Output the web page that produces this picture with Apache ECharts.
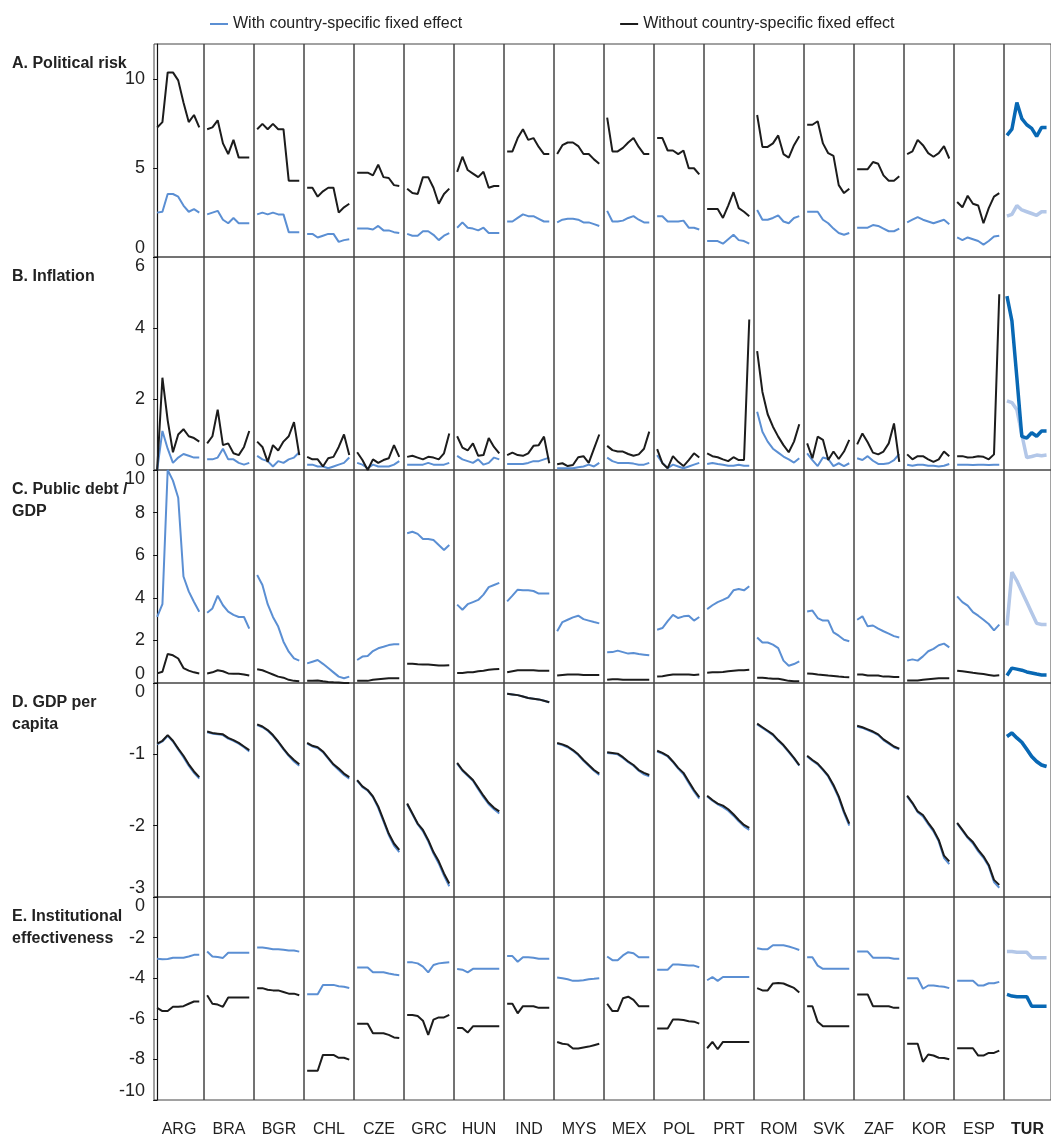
<!DOCTYPE html>
<html>
<head>
<meta charset="utf-8">
<script src="https://cdn.jsdelivr.net/npm/echarts@6/dist/echarts.min.js"></script>
<style>
  html, body { margin: 0; padding: 0; background: #fff; }
  #chart { width: 1051px; height: 1139px; }
</style>
</head>
<body>
<div id="chart"></div>
<script>
const COUNTRIES = ["ARG", "BRA", "BGR", "CHL", "CZE", "GRC", "HUN", "IND", "MYS", "MEX", "POL", "PRT", "ROM", "SVK", "ZAF", "KOR", "ESP", "TUR"];

// A. Political risk
const riskWith = [
  [2.5, 2.55, 3.55, 3.55, 3.4, 2.9, 2.55, 2.7, 2.5],
  [2.4, 2.5, 2.6, 2.1, 1.9, 2.2, 1.9, 1.9, 1.9],
  [2.4, 2.5, 2.4, 2.5, 2.4, 2.4, 1.4, 1.4, 1.4],
  [1.3, 1.3, 1.1, 1.2, 1.3, 1.3, 0.85, 0.95, 1.0],
  [1.6, 1.6, 1.6, 1.55, 1.75, 1.5, 1.5, 1.4, 1.35],
  [1.3, 1.2, 1.2, 1.45, 1.45, 1.25, 0.95, 1.2, 1.35],
  [1.65, 1.95, 1.65, 1.6, 1.5, 1.65, 1.35, 1.35, 1.35],
  [2.0, 2.0, 2.2, 2.4, 2.3, 2.3, 2.15, 2.0, 2.0],
  [1.95, 2.1, 2.15, 2.15, 2.1, 1.95, 1.95, 1.85, 1.75],
  [2.6, 2.0, 2.0, 2.05, 2.2, 2.3, 2.1, 1.95, 1.95],
  [2.3, 2.3, 2.0, 2.0, 2.0, 2.05, 1.65, 1.65, 1.55],
  [0.9, 0.9, 0.9, 0.75, 1.0, 1.25, 0.95, 0.9, 0.75],
  [2.65, 2.1, 2.1, 2.2, 2.35, 2.0, 1.9, 2.2, 2.3],
  [2.55, 2.55, 2.55, 2.1, 1.9, 1.6, 1.35, 1.25, 1.35],
  [1.65, 1.65, 1.65, 1.8, 1.75, 1.6, 1.45, 1.45, 1.6],
  [1.95, 2.1, 2.25, 2.1, 2.0, 1.9, 2.0, 2.1, 1.85],
  [1.1, 0.95, 1.1, 1.0, 0.9, 0.7, 0.9, 1.15, 1.2],
  [2.3, 2.4, 2.9, 2.65, 2.55, 2.45, 2.35, 2.55, 2.55]
];
const riskWithout = [
  [7.3, 7.6, 10.4, 10.4, 9.95, 8.7, 7.6, 8.0, 7.3],
  [7.2, 7.3, 7.7, 6.4, 5.8, 6.6, 5.6, 5.6, 5.6],
  [7.2, 7.5, 7.2, 7.5, 7.2, 7.2, 4.3, 4.3, 4.3],
  [3.9, 3.9, 3.4, 3.7, 3.9, 3.9, 2.5, 2.8, 3.0],
  [4.75, 4.75, 4.75, 4.6, 5.2, 4.5, 4.45, 4.05, 4.0],
  [3.85, 3.6, 3.55, 4.5, 4.5, 3.9, 3.0, 3.55, 3.85],
  [4.8, 5.65, 4.9, 4.7, 4.5, 4.8, 3.9, 4.0, 4.0],
  [5.95, 5.95, 6.7, 7.2, 6.6, 6.7, 6.2, 5.8, 5.8],
  [5.8, 6.3, 6.45, 6.45, 6.25, 5.8, 5.8, 5.5, 5.25],
  [7.85, 5.95, 5.95, 6.15, 6.45, 6.7, 6.2, 5.8, 5.8],
  [6.7, 6.7, 6.0, 6.0, 5.8, 6.0, 5.0, 5.0, 4.65],
  [2.7, 2.7, 2.7, 2.2, 2.9, 3.65, 2.75, 2.55, 2.3],
  [8.0, 6.2, 6.2, 6.4, 6.85, 5.8, 5.6, 6.3, 6.8],
  [7.45, 7.45, 7.65, 6.4, 5.85, 5.7, 4.05, 3.6, 3.85],
  [4.95, 4.95, 4.95, 5.35, 5.25, 4.6, 4.3, 4.3, 4.55],
  [5.8, 5.95, 6.6, 6.3, 5.85, 5.65, 5.85, 6.25, 5.55],
  [3.1, 2.8, 3.45, 3.0, 2.9, 1.9, 2.75, 3.4, 3.6],
  [6.85, 7.2, 8.7, 7.8, 7.45, 7.25, 6.8, 7.3, 7.3]
];

// B. Inflation
const inflWith = [
  [0, 1.1, 0.6, 0.2, 0.35, 0.45, 0.4, 0.35, 0.35],
  [0.3, 0.3, 0.35, 0.6, 0.3, 0.3, 0.2, 0.15, 0.2],
  [0.4, 0.3, 0.25, 0.1, 0.25, 0.2, 0.3, 0.35, 0.5],
  [0.15, 0.15, 0.1, 0.1, 0.05, 0.1, 0.15, 0.2, 0.35],
  [0.2, 0.15, 0.05, 0.15, 0.1, 0.1, 0.1, 0.15, 0.25],
  [0.15, 0.15, 0.15, 0.15, 0.2, 0.15, 0.15, 0.15, 0.2],
  [0.4, 0.3, 0.25, 0.2, 0.3, 0.15, 0.2, 0.35, 0.3],
  [0.17, 0.17, 0.17, 0.17, 0.2, 0.25, 0.25, 0.3, 0.35],
  [0.05, 0.05, 0.05, 0.05, 0.08, 0.1, 0.15, 0.1, 0.2],
  [0.35, 0.25, 0.2, 0.2, 0.2, 0.18, 0.15, 0.15, 0.2],
  [0.42, 0.2, 0.05, 0.15, 0.1, 0.05, 0.1, 0.15, 0.2],
  [0.17, 0.2, 0.17, 0.15, 0.12, 0.12, 0.15, 0.12, 0.12],
  [1.64, 1.08, 0.8, 0.6, 0.49, 0.38, 0.3, 0.21, 0.33],
  [0.47, 0.28, 0.11, 0.35, 0.31, 0.11, 0.19, 0.11, 0.19],
  [0.33, 0.28, 0.39, 0.26, 0.17, 0.17, 0.19, 0.28, 0.45],
  [0.15, 0.12, 0.15, 0.15, 0.12, 0.12, 0.1, 0.12, 0.17],
  [0.15, 0.15, 0.15, 0.14, 0.15, 0.15, 0.14, 0.15, 0.15],
  [1.95, 1.9, 1.7, 1.0, 0.35, 0.38, 0.42, 0.4, 0.42]
];
const inflWithout = [
  [0, 2.6, 1.4, 0.5, 1.0, 1.15, 0.95, 0.9, 0.8],
  [0.75, 0.95, 1.7, 0.7, 0.75, 0.47, 0.42, 0.65, 1.1],
  [0.8, 0.65, 0.23, 0.7, 0.55, 0.8, 0.95, 1.35, 0.42],
  [0.37, 0.3, 0.3, 0.1, 0.33, 0.37, 0.65, 1.0, 0.42],
  [0.5, 0.28, 0.0, 0.3, 0.2, 0.28, 0.33, 0.7, 0.37],
  [0.37, 0.4, 0.35, 0.3, 0.37, 0.35, 0.3, 0.47, 1.03],
  [0.95, 0.63, 0.55, 0.75, 0.4, 0.42, 0.9, 0.65, 0.47],
  [0.42, 0.49, 0.42, 0.4, 0.47, 0.68, 0.7, 0.94, 0.19],
  [0.16, 0.19, 0.11, 0.14, 0.36, 0.39, 0.2, 0.6, 1.0],
  [0.68, 0.56, 0.52, 0.52, 0.45, 0.4, 0.44, 0.6, 1.08],
  [0.59, 0.19, 0.05, 0.39, 0.23, 0.11, 0.28, 0.47, 0.35],
  [0.47, 0.39, 0.36, 0.3, 0.25, 0.36, 0.28, 0.28, 4.24],
  [3.35, 2.2, 1.57, 1.22, 0.94, 0.7, 0.5, 0.8, 1.29],
  [0.75, 0.33, 0.94, 0.85, 0.28, 0.52, 0.31, 0.52, 0.85],
  [0.72, 1.03, 0.78, 0.49, 0.44, 0.52, 0.75, 1.31, 0.23],
  [0.44, 0.3, 0.39, 0.39, 0.3, 0.23, 0.3, 0.52, 0.39],
  [0.39, 0.39, 0.35, 0.36, 0.39, 0.37, 0.3, 0.44, 4.95],
  [4.9, 4.2, 2.6, 0.95, 0.9, 1.05, 0.95, 1.1, 1.1]
];

// C. Public debt / GDP
const debtWith = [
  [3.1, 3.7, 10, 9.5, 8.7, 5.0, 4.3, 3.8, 3.35],
  [3.3, 3.5, 4.1, 3.65, 3.35, 3.2, 3.1, 3.1, 2.55],
  [5.07, 4.6, 3.7, 3.1, 2.65, 1.94, 1.47, 1.16, 1.05],
  [0.92, 1.0, 1.08, 0.9, 0.7, 0.5, 0.3, 0.22, 0.3],
  [1.08, 1.24, 1.27, 1.5, 1.63, 1.7, 1.78, 1.82, 1.82],
  [7.03, 7.1, 7.0, 6.76, 6.76, 6.71, 6.48, 6.24, 6.48],
  [3.68, 3.44, 3.7, 3.8, 3.9, 4.15, 4.5, 4.6, 4.7],
  [3.83, 4.1, 4.38, 4.35, 4.35, 4.32, 4.2, 4.2, 4.2],
  [2.43, 2.86, 2.97, 3.08, 3.16, 3.0, 2.93, 2.86, 2.8],
  [1.44, 1.45, 1.52, 1.45, 1.38, 1.41, 1.36, 1.33, 1.3],
  [2.5, 2.58, 2.9, 3.2, 3.05, 3.13, 3.16, 2.93, 3.1],
  [3.47, 3.65, 3.8, 3.9, 4.02, 4.35, 4.41, 4.35, 4.54],
  [2.14, 1.9, 1.9, 1.8, 1.64, 1.05, 0.81, 0.89, 1.02],
  [3.36, 3.4, 3.05, 2.93, 2.93, 2.38, 2.22, 2.03, 1.96],
  [2.97, 3.13, 2.66, 2.7, 2.55, 2.43, 2.32, 2.2, 2.14],
  [1.05, 1.11, 1.05, 1.25, 1.49, 1.6, 1.77, 1.85, 1.67],
  [4.07, 3.8, 3.63, 3.33, 3.16, 2.97, 2.77, 2.47, 2.74],
  [2.7, 5.2, 4.8, 4.3, 3.8, 3.3, 2.8, 2.75, 2.75]
];
const debtWithout = [
  [0.45, 0.53, 1.36, 1.3, 1.15, 0.7, 0.58, 0.5, 0.45],
  [0.45, 0.5, 0.6, 0.55, 0.45, 0.43, 0.43, 0.4, 0.35],
  [0.65, 0.6, 0.5, 0.4, 0.3, 0.25, 0.15, 0.1, 0.08],
  [0.1, 0.1, 0.12, 0.08, 0.05, 0.03, 0.02, 0.0, 0.0],
  [0.1, 0.1, 0.1, 0.15, 0.18, 0.2, 0.22, 0.22, 0.22],
  [0.9, 0.9, 0.88, 0.87, 0.87, 0.85, 0.82, 0.82, 0.83],
  [0.47, 0.47, 0.5, 0.5, 0.55, 0.58, 0.62, 0.64, 0.66],
  [0.5, 0.55, 0.6, 0.6, 0.6, 0.6, 0.58, 0.58, 0.58],
  [0.35, 0.38, 0.4, 0.4, 0.4, 0.38, 0.38, 0.37, 0.37],
  [0.15, 0.18, 0.18, 0.15, 0.15, 0.15, 0.15, 0.15, 0.15],
  [0.3, 0.32, 0.36, 0.4, 0.4, 0.4, 0.4, 0.38, 0.4],
  [0.48, 0.5, 0.5, 0.52, 0.55, 0.58, 0.6, 0.6, 0.62],
  [0.25, 0.25, 0.22, 0.2, 0.2, 0.15, 0.1, 0.08, 0.08],
  [0.45, 0.43, 0.4, 0.38, 0.35, 0.33, 0.3, 0.28, 0.27],
  [0.4, 0.4, 0.35, 0.35, 0.35, 0.3, 0.3, 0.28, 0.28],
  [0.12, 0.12, 0.12, 0.15, 0.18, 0.2, 0.22, 0.22, 0.22],
  [0.58, 0.55, 0.52, 0.48, 0.45, 0.42, 0.38, 0.34, 0.36],
  [0.35, 0.7, 0.65, 0.6, 0.52, 0.47, 0.42, 0.38, 0.38]
];

// D. GDP per capita
const gdpWithout = [
  [-0.85, -0.81, -0.73, -0.81, -0.92, -1.02, -1.14, -1.24, -1.32],
  [-0.68, -0.7, -0.71, -0.72, -0.77, -0.8, -0.84, -0.89, -0.94],
  [-0.58, -0.61, -0.66, -0.73, -0.82, -0.92, -1.01, -1.08, -1.14],
  [-0.84, -0.88, -0.9, -0.96, -1.05, -1.14, -1.2, -1.27, -1.32],
  [-1.36, -1.45, -1.5, -1.59, -1.73, -1.92, -2.11, -2.25, -2.34],
  [-1.69, -1.83, -1.97, -2.06, -2.2, -2.37, -2.5, -2.67, -2.81],
  [-1.12, -1.22, -1.29, -1.36, -1.47, -1.58, -1.68, -1.75, -1.8],
  [-0.15, -0.16, -0.17, -0.19, -0.21, -0.22, -0.23, -0.25, -0.27],
  [-0.84, -0.86, -0.89, -0.94, -1.0, -1.08, -1.15, -1.22, -1.27],
  [-0.97, -0.98, -0.99, -1.04, -1.1, -1.15, -1.22, -1.26, -1.29],
  [-0.95, -0.98, -1.02, -1.1, -1.19, -1.26, -1.38, -1.5, -1.6],
  [-1.58, -1.64, -1.69, -1.72, -1.77, -1.84, -1.92, -1.99, -2.03],
  [-0.57, -0.62, -0.67, -0.72, -0.8, -0.87, -0.96, -1.05, -1.15],
  [-1.02, -1.08, -1.13, -1.21, -1.3, -1.43, -1.59, -1.8, -1.97],
  [-0.6, -0.62, -0.65, -0.68, -0.72, -0.79, -0.84, -0.89, -0.92],
  [-1.58, -1.68, -1.8, -1.85, -1.96, -2.06, -2.2, -2.42, -2.5],
  [-1.96, -2.06, -2.16, -2.23, -2.34, -2.43, -2.55, -2.76, -2.83],
  [-0.75, -0.7, -0.77, -0.83, -0.93, -1.03, -1.1, -1.15, -1.17]
];
const gdpWith = [
  [-0.86, -0.82, -0.74, -0.82, -0.93, -1.04, -1.16, -1.26, -1.34],
  [-0.69, -0.71, -0.72, -0.73, -0.78, -0.81, -0.85, -0.9, -0.96],
  [-0.59, -0.62, -0.67, -0.74, -0.83, -0.93, -1.02, -1.1, -1.16],
  [-0.85, -0.89, -0.91, -0.97, -1.06, -1.15, -1.22, -1.29, -1.34],
  [-1.37, -1.46, -1.51, -1.6, -1.75, -1.94, -2.13, -2.28, -2.37],
  [-1.7, -1.84, -1.98, -2.08, -2.22, -2.39, -2.53, -2.7, -2.85],
  [-1.13, -1.23, -1.3, -1.37, -1.49, -1.6, -1.7, -1.77, -1.83],
  [-0.15, -0.16, -0.17, -0.19, -0.21, -0.22, -0.23, -0.25, -0.27],
  [-0.85, -0.87, -0.9, -0.95, -1.01, -1.09, -1.16, -1.23, -1.29],
  [-0.98, -0.99, -1.0, -1.05, -1.11, -1.16, -1.23, -1.28, -1.31],
  [-0.96, -0.99, -1.03, -1.11, -1.2, -1.28, -1.4, -1.52, -1.62],
  [-1.59, -1.65, -1.7, -1.74, -1.79, -1.86, -1.94, -2.01, -2.06],
  [-0.58, -0.63, -0.68, -0.73, -0.81, -0.88, -0.97, -1.06, -1.16],
  [-1.03, -1.09, -1.14, -1.22, -1.31, -1.45, -1.61, -1.82, -2.0],
  [-0.61, -0.63, -0.66, -0.69, -0.73, -0.8, -0.85, -0.9, -0.93],
  [-1.59, -1.69, -1.81, -1.87, -1.98, -2.08, -2.22, -2.45, -2.54],
  [-1.97, -2.07, -2.17, -2.25, -2.36, -2.45, -2.57, -2.79, -2.87],
  [-0.75, -0.7, -0.77, -0.83, -0.93, -1.03, -1.1, -1.15, -1.17]
];

// E. Institutional effectiveness
const instWith = [
  [-3.04, -3.07, -3.05, -2.99, -2.99, -2.99, -2.93, -2.85, -2.85],
  [-2.69, -2.93, -2.96, -3.0, -2.75, -2.75, -2.75, -2.75, -2.75],
  [-2.49, -2.49, -2.52, -2.57, -2.57, -2.6, -2.64, -2.64, -2.69],
  [-4.79, -4.79, -4.79, -4.33, -4.33, -4.33, -4.4, -4.42, -4.48],
  [-3.47, -3.47, -3.47, -3.71, -3.71, -3.71, -3.77, -3.82, -3.85],
  [-3.22, -3.22, -3.27, -3.43, -3.71, -3.35, -3.27, -3.24, -3.22],
  [-3.55, -3.58, -3.71, -3.54, -3.54, -3.54, -3.54, -3.54, -3.54],
  [-2.91, -2.91, -3.19, -2.97, -2.97, -2.99, -3.04, -3.04, -3.04],
  [-3.97, -4.0, -4.05, -4.13, -4.13, -4.1, -4.05, -4.03, -4.0],
  [-2.93, -3.11, -3.11, -2.88, -2.72, -2.77, -2.97, -2.97, -2.97],
  [-3.58, -3.58, -3.58, -3.32, -3.32, -3.35, -3.38, -3.38, -3.46],
  [-4.1, -3.94, -4.13, -3.94, -3.94, -3.94, -3.94, -3.94, -3.94],
  [-2.52, -2.57, -2.57, -2.38, -2.38, -2.38, -2.44, -2.52, -2.61],
  [-2.97, -2.97, -3.38, -3.54, -3.54, -3.54, -3.54, -3.54, -3.54],
  [-2.69, -2.69, -2.69, -2.99, -2.99, -2.99, -2.99, -3.04, -3.04],
  [-4.0, -4.0, -4.0, -4.52, -4.36, -4.36, -4.4, -4.42, -4.49],
  [-4.13, -4.13, -4.13, -4.13, -4.36, -4.36, -4.25, -4.25, -4.18],
  [-2.69, -2.69, -2.72, -2.72, -2.72, -2.99, -2.99, -2.99, -2.99]
];
const instWithout = [
  [-5.46, -5.62, -5.62, -5.41, -5.41, -5.38, -5.26, -5.15, -5.15],
  [-4.84, -5.26, -5.3, -5.41, -4.95, -4.95, -4.95, -4.95, -4.95],
  [-4.49, -4.49, -4.57, -4.6, -4.6, -4.68, -4.76, -4.76, -4.84],
  [-8.56, -8.56, -8.56, -7.78, -7.78, -7.78, -7.92, -7.92, -8.01],
  [-6.24, -6.24, -6.24, -6.71, -6.71, -6.71, -6.79, -6.92, -6.95],
  [-5.81, -5.81, -5.86, -6.09, -6.79, -6.04, -5.93, -5.93, -5.81],
  [-6.45, -6.45, -6.68, -6.37, -6.37, -6.37, -6.37, -6.37, -6.37],
  [-5.26, -5.26, -5.73, -5.38, -5.38, -5.38, -5.46, -5.46, -5.46],
  [-7.14, -7.23, -7.26, -7.46, -7.46, -7.41, -7.37, -7.3, -7.23],
  [-5.26, -5.62, -5.62, -4.99, -4.91, -5.07, -5.38, -5.38, -5.38],
  [-6.48, -6.48, -6.48, -6.04, -6.04, -6.06, -6.12, -6.14, -6.24],
  [-7.45, -7.14, -7.5, -7.14, -7.14, -7.14, -7.14, -7.14, -7.14],
  [-4.49, -4.6, -4.6, -4.26, -4.24, -4.26, -4.37, -4.48, -4.71],
  [-5.38, -5.38, -6.15, -6.37, -6.37, -6.37, -6.37, -6.37, -6.37],
  [-4.8, -4.8, -4.8, -5.38, -5.38, -5.38, -5.38, -5.46, -5.46],
  [-7.23, -7.23, -7.23, -8.12, -7.76, -7.81, -7.92, -7.93, -7.99],
  [-7.45, -7.45, -7.45, -7.45, -7.81, -7.81, -7.68, -7.68, -7.57],
  [-4.8, -4.88, -4.91, -4.91, -4.91, -5.38, -5.38, -5.38, -5.38]
];

const PANELS = [
  { label: "A. Political risk", withData: riskWith, withoutData: riskWithout, min: 0, max: 12, interval: 5, showMax: false, top: 44, height: 213 },
  { label: "B. Inflation", withData: inflWith, withoutData: inflWithout, min: 0, max: 6, interval: 2, showMax: true, top: 257, height: 213 },
  { label: "C. Public debt /\nGDP", withData: debtWith, withoutData: debtWithout, min: 0, max: 10, interval: 2, showMax: true, top: 470, height: 213 },
  { label: "D. GDP per\ncapita", withData: gdpWith, withoutData: gdpWithout, min: -3, max: 0, interval: 1, showMax: true, top: 683, height: 214 },
  { label: "E. Institutional\neffectiveness", withData: instWith, withoutData: instWithout, min: -10, max: 0, interval: 2, showMax: true, top: 897, height: 213 }
];

const WITH_NAME = "With country-specific fixed effect";
const WITHOUT_NAME = "Without country-specific fixed effect";
const BLUE = "#5b8fd3";
const BLACK = "#1c1c1c";
const TUR_DARK = "#0868b4";
const TUR_LIGHT = "#b3c7e8";

const colLeft = 154;
const colWidth = 50;
const FONT = "'Liberation Sans', Arial, sans-serif";

const grid = [];
const xAxis = [];
const yAxis = [];
const series = [];
const graphic = [];

PANELS.forEach((panel, r) => {
  COUNTRIES.forEach((country, c) => {
    const idx = grid.length;
    const isTur = country === "TUR";
    const lastRow = r === PANELS.length - 1;
    grid.push({
      left: colLeft + c * colWidth,
      top: panel.top,
      width: colWidth,
      height: panel.height,
      show: true,
      borderColor: "#444",
      borderWidth: 1,
      containLabel: false
    });
    xAxis.push({
      type: "value",
      gridIndex: idx,
      min: -0.6,
      max: 8.9,
      show: lastRow,
      axisLine: { show: false },
      axisTick: { show: false },
      axisLabel: { show: false },
      splitLine: { show: false },
      name: lastRow ? country : "",
      nameLocation: "middle",
      nameGap: 22,
      nameTextStyle: {
        fontFamily: FONT,
        fontSize: 16,
        color: "#222",
        fontWeight: isTur ? "bold" : "normal"
      }
    });
    yAxis.push({
      type: "value",
      gridIndex: idx,
      min: panel.min,
      max: panel.max,
      interval: panel.interval,
      show: c === 0,
      axisLine: { show: true, lineStyle: { color: "#111", width: 1.2 } },
      axisTick: { show: true, length: 4, lineStyle: { color: "#111" } },
      axisLabel: {
        fontFamily: FONT,
        fontSize: 18,
        color: "#222",
        margin: 9,
        showMaxLabel: panel.showMax,
        verticalAlignMinLabel: "bottom",
        verticalAlignMaxLabel: "top"
      },
      splitLine: { show: false }
    });
    const pts = arr => arr.map((v, i) => [i, v]);
    series.push({
      name: WITH_NAME,
      type: "line",
      xAxisIndex: idx,
      yAxisIndex: idx,
      symbol: "none",
      silent: true,
      lineStyle: { color: isTur ? TUR_LIGHT : BLUE, width: isTur ? 3.5 : 2 },
      itemStyle: { color: BLUE },
      data: pts(panel.withData[c])
    });
    series.push({
      name: WITHOUT_NAME,
      type: "line",
      xAxisIndex: idx,
      yAxisIndex: idx,
      symbol: "none",
      silent: true,
      lineStyle: { color: isTur ? TUR_DARK : BLACK, width: isTur ? 3.5 : 2 },
      itemStyle: { color: BLACK },
      data: pts(panel.withoutData[c])
    });
  });

  graphic.push({
    type: "text",
    left: 12,
    top: panel.top + 9,
    style: {
      text: panel.label,
      font: "bold 16px " + FONT,
      fill: "#222",
      lineHeight: 22
    }
  });
});

const chart = echarts.init(document.getElementById("chart"));
chart.setOption({
  animation: false,
  backgroundColor: "#fff",
  legend: {
    top: 11,
    left: 205,
    itemGap: 158,
    itemWidth: 18,
    itemHeight: 2,
    icon: "rect",
    textStyle: { fontFamily: FONT, fontSize: 16, color: "#222" },
    data: [
      { name: WITH_NAME, itemStyle: { color: BLUE } },
      { name: WITHOUT_NAME, itemStyle: { color: BLACK } }
    ]
  },
  grid,
  xAxis,
  yAxis,
  series,
  graphic
});
</script>
</body>
</html>
